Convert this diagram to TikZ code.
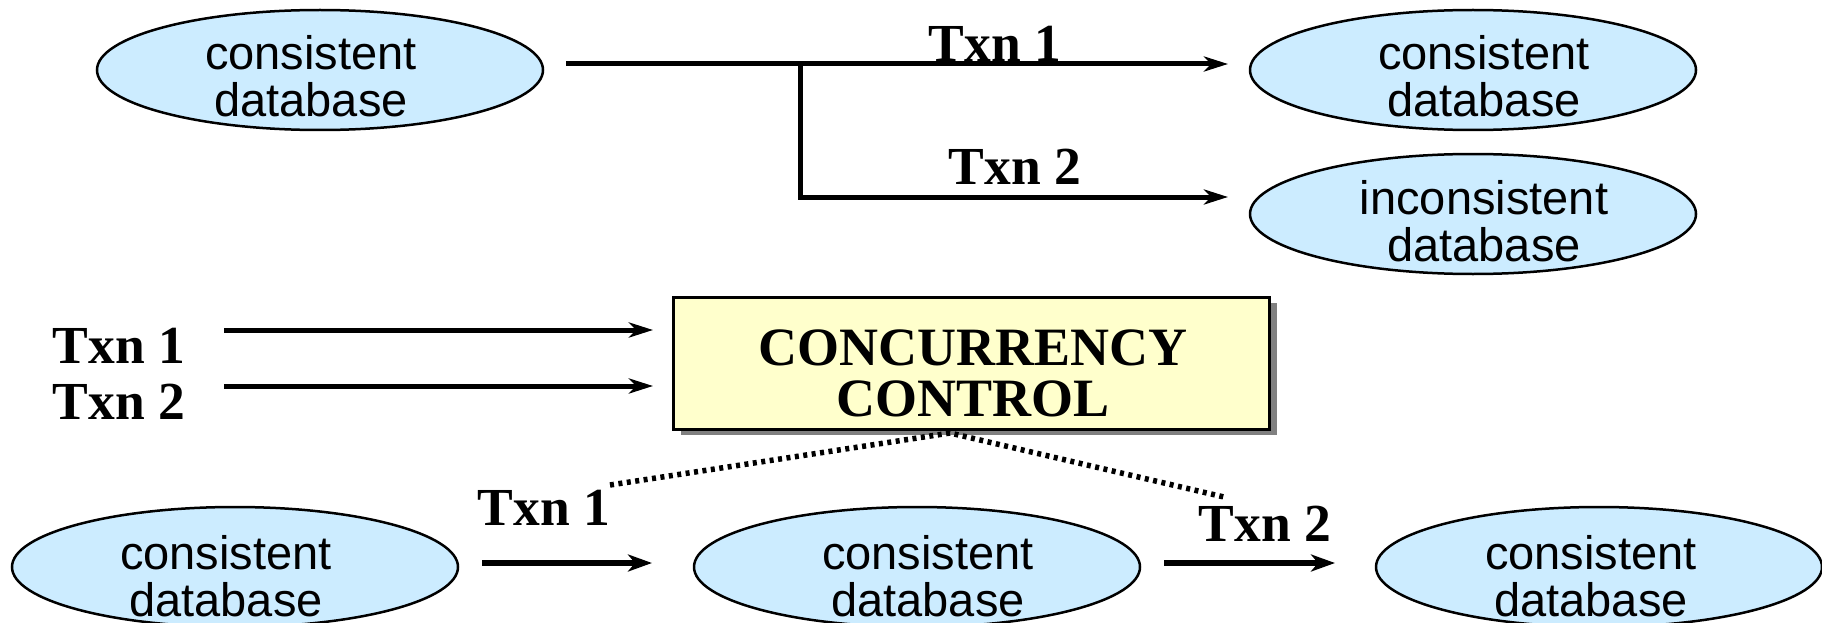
\documentclass[tikz,border=0pt]{standalone}
\usepackage{fontspec}
\setmainfont{Liberation Serif}
\newfontfamily\arialf{Liberation Sans}
\usetikzlibrary{arrows.meta,shapes.geometric,shadows}
\definecolor{dbblue}{HTML}{CCECFF}
\definecolor{ccyellow}{HTML}{FFFFCC}
\newcommand\twoline[3]{\vtop{\baselineskip=#1\lineskiplimit=-1000pt\hbox to 0pt{\hss#2\hss}\hbox to 0pt{\hss#3\hss}}}
\begin{document}
\begin{tikzpicture}[x=1pt,y=-1pt,
  db/.style={ellipse, draw=black, line width=2.5pt, fill=dbblue, minimum width=446pt, minimum height=120pt, inner sep=0pt},
  dbtxt/.style={font=\arialf\fontsize{47}{47}\selectfont, inner sep=0pt, anchor=base},
  lbl/.style={font=\bfseries\fontsize{53.5}{53.5}\selectfont, inner sep=0pt, anchor=base},
  ccbox/.style={draw=black, line width=3pt, fill=ccyellow, minimum width=596pt, minimum height=132pt, inner sep=0pt,
     drop shadow={fill=black!50, opacity=1, shadow xshift=8pt, shadow yshift=-6pt}},
  cctxt/.style={font=\bfseries\fontsize{54}{51}\selectfont, inner sep=0pt, anchor=base},
  conn/.style={line width=5pt, miter limit=10, -{Stealth[length=24pt,width=15pt,inset=7pt]}},
  thickconn/.style={line width=6pt, -{Stealth[length=24pt,width=17pt,inset=7pt]}},
  dotline/.style={line width=5.5pt, dash pattern=on 4pt off 4.5pt}
]
\useasboundingbox (0,0) rectangle (1822,623);

% top row
\node[db] (A) at (320,70) {};
\node[dbtxt] (Atxt) at ([xshift=-9pt]A.center) {\twoline{47pt}{consistent}{database}};
\node[db] (B) at (1473,70) {};
\node[dbtxt] (Btxt) at ([xshift=11pt]B.center) {\twoline{47pt}{consistent}{database}};
\node[db] (C) at (1473,214) {};
\node[dbtxt] (Ctxt) at ([xshift=11pt]C.center) {\twoline{47pt}{inconsistent}{database}};

\coordinate (s1) at (566,64);
\coordinate (br) at (800,64);
\coordinate (e1) at (1228,64);
\coordinate (e2) at (1228,197);
\draw[conn] (s1) -- (e1);
\draw[conn] (br) |- (e2);
\node[lbl] (t1top) at (995,62) {Txn 1};
\node[lbl] (t2top) at (1015,184) {Txn 2};

% middle
\node[lbl] (t1left) at (119,363) {Txn 1};
\node[lbl] (t2left) at (119,419) {Txn 2};
\coordinate (l1s) at (224,330);
\coordinate (l1e) at (653,330);
\coordinate (l2s) at (224,386);
\coordinate (l2e) at (653,386);
\draw[conn] (l1s) -- (l1e);
\draw[conn] (l2s) -- (l2e);

\node[ccbox] (cc) at (971,363) {};
\node[cctxt] (cctext) at ([xshift=2pt,yshift=-2pt]cc.center) {\twoline{51pt}{CONCURRENCY}{CONTROL}};

% dotted lines
\coordinate (apex) at (950,433);
\coordinate (dl) at (610,485);
\coordinate (dr) at (1224,497);
\draw[dotline] (dl) -- (apex) -- (dr);

% bottom row
\node[db] (D) at (235,567) {};
\node[dbtxt] (Dtxt) at ([xshift=-9pt,yshift=-2pt]D.center) {\twoline{47pt}{consistent}{database}};
\node[db] (E) at (917,567) {};
\node[dbtxt] (Etxt) at ([xshift=11pt,yshift=-2pt]E.center) {\twoline{47pt}{consistent}{database}};
\node[db] (F) at (1599,567) {};
\node[dbtxt] (Ftxt) at ([xshift=-8pt,yshift=-2pt]F.center) {\twoline{47pt}{consistent}{database}};

\coordinate (b1s) at (482,563);
\coordinate (b1e) at (652,563);
\coordinate (b2s) at (1164,563);
\coordinate (b2e) at (1335,563);
\draw[thickconn] (b1s) -- (b1e);
\draw[thickconn] (b2s) -- (b2e);
\node[lbl] (t1bot) at (544,525) {Txn 1};
\node[lbl] (t2bot) at (1265,541) {Txn 2};
\end{tikzpicture}
\end{document}
